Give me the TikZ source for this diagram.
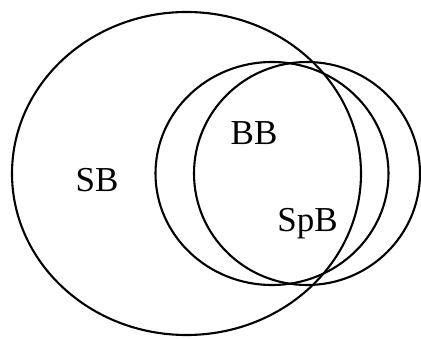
\documentclass[tikz,border=0pt]{standalone}
\usepackage{fontspec}
\setmainfont{Liberation Serif}
\begin{document}
\begin{tikzpicture}[x=1pt,y=1pt,
  ring/.style={draw=black,line width=2.1pt},
  lbl/.style={anchor=base,inner sep=0pt,font=\fontsize{35}{40}\selectfont}]
\useasboundingbox (0,0) rectangle (421,338);
\draw[ring] (186.5,164.5) ellipse [x radius=174.5, y radius=161.5];
\draw[ring] (272,164.5) ellipse [x radius=116.5, y radius=111.5];
\draw[ring] (307,164.5) ellipse [x radius=113, y radius=111.5];
\node[lbl] (sb) at (97,146.3) {SB};
\node[lbl] (bb) at (254,193) {BB};
\node[lbl] (spb) at (307.5,106.3) {SpB};
\end{tikzpicture}
\end{document}
